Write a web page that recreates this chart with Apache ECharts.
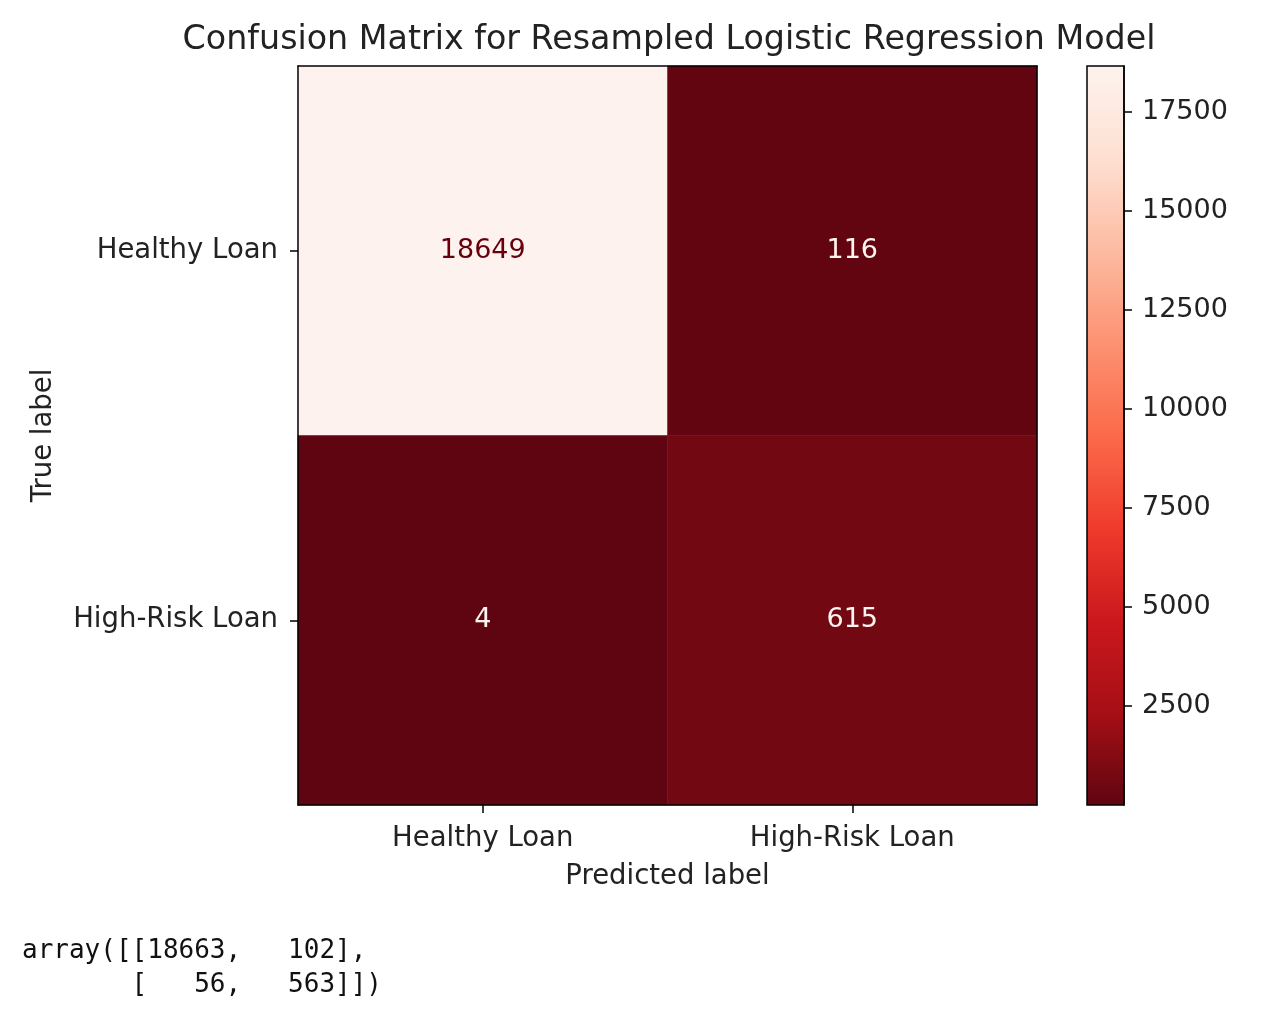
<!DOCTYPE html>
<html>
<head>
<meta charset="utf-8">
<script src="https://cdn.jsdelivr.net/npm/echarts@6/dist/echarts.min.js"></script>
<style>
html,body{margin:0;padding:0;background:#fff;}
#chart{width:1270px;height:1014px;}
</style>
</head>
<body>
<div id="chart"></div>
<script>
// ---- data ----
const predictedLabels = ['Healthy Loan', 'High-Risk Loan'];
const trueLabels = ['Healthy Loan', 'High-Risk Loan'];
const matrixRow0 = [18649, 116];
const matrixRow1 = [4, 615];
const colorbarTicks = [2500, 5000, 7500, 10000, 12500, 15000, 17500];
const printedRow0 = ['18663', '102'];
const printedRow1 = ['56', '563'];

const rows = [matrixRow0, matrixRow1];
const all = matrixRow0.concat(matrixRow1);
const vmin = Math.min.apply(null, all);
const vmax = Math.max.apply(null, all);
const thresh = (vmin + vmax) / 2;
const darkest = '#67000d', lightest = '#fff5f0';
const rampColors = ['#5f0511', '#a50f15', '#cb181d', '#ef3b2c', '#fb6a4a', '#fc9272', '#fcbba1', '#fee0d2', '#fdf2ee'];

const heatData = [];
rows.forEach(function (row, yi) {
  row.forEach(function (v, xi) {
    heatData.push({
      value: [xi, yi, v],
      label: { color: v < thresh ? lightest : darkest }
    });
  });
});

const font = 'DejaVu Sans';
const txtColor = '#222';
const fs = 27.5;

function pad(s, n) { while (s.length < n) s = ' ' + s; return s; }
const printedText = 'array([[' + pad(printedRow0[0], 5) + ', ' + pad(printedRow0[1], 5) + '],\n' +
                    '       [' + pad(printedRow1[0], 5) + ', ' + pad(printedRow1[1], 5) + ']])';

// colorbar gradient (bottom = low, top = high)
const barGradient = new echarts.graphic.LinearGradient(0, 1, 0, 0,
  rampColors.map(function (c, i) { return { offset: i / (rampColors.length - 1), color: c }; }));

const chart = echarts.init(document.getElementById('chart'), null, { renderer: 'canvas' });

const frameAxis = {
  axisLine: { show: true, onZero: false, lineStyle: { color: '#000', width: 1.5 } },
  axisTick: { show: false },
  axisLabel: { show: false },
  splitLine: { show: false },
  z: 10
};
const tickStyle = { color: '#000', width: 1.5 };

chart.setOption({
  backgroundColor: '#fff',
  animation: false,
  title: [{
    text: 'Confusion Matrix for Resampled Logistic Regression Model',
    left: 664,
    textAlign: 'center',
    top: 19,
    textStyle: { fontFamily: font, fontSize: 33.3, fontWeight: 'normal', color: txtColor }
  }, {
    text: printedText,
    left: 17,
    top: 929,
    textStyle: { fontFamily: 'DejaVu Sans Mono', fontSize: 26, fontWeight: 'normal', color: '#111', lineHeight: 34 }
  }],
  grid: [
    { left: 298, top: 66, width: 739, height: 739 },
    { left: 1087, top: 66, width: 37, height: 739, show: true,
      backgroundColor: barGradient, borderColor: '#000', borderWidth: 1.5 }
  ],
  xAxis: [
    Object.assign({}, frameAxis, {
      type: 'category', gridIndex: 0, data: predictedLabels, position: 'bottom',
      axisTick: { show: true, inside: false, alignWithLabel: true, length: 8, lineStyle: tickStyle },
      axisLabel: { show: true, fontFamily: font, fontSize: fs, color: txtColor, margin: 20 },
      name: 'Predicted label', nameLocation: 'middle', nameGap: 58,
      nameTextStyle: { fontFamily: font, fontSize: fs, color: txtColor }
    }),
    Object.assign({}, frameAxis, { type: 'category', gridIndex: 0, data: predictedLabels, position: 'top' }),
    { type: 'value', gridIndex: 1, min: 0, max: 1, show: false }
  ],
  yAxis: [
    Object.assign({}, frameAxis, {
      type: 'category', gridIndex: 0, data: trueLabels, inverse: true, position: 'left',
      axisTick: { show: true, inside: false, alignWithLabel: true, length: 8, lineStyle: tickStyle },
      axisLabel: { show: true, fontFamily: font, fontSize: fs, color: txtColor, margin: 20 },
      name: 'True label', nameLocation: 'middle', nameGap: 240, nameRotate: 90,
      nameTextStyle: { fontFamily: font, fontSize: fs, color: txtColor }
    }),
    Object.assign({}, frameAxis, { type: 'category', gridIndex: 0, data: trueLabels, inverse: true, position: 'right' }),
    Object.assign({}, frameAxis, {
      type: 'value', gridIndex: 1, min: vmin, max: vmax, position: 'right',
      axisLine: { show: true, onZero: false, lineStyle: { color: '#000', width: 1.5 } },
      axisTick: { show: true, inside: false, length: 8, customValues: colorbarTicks, lineStyle: tickStyle },
      axisLabel: { show: true, fontFamily: font, fontSize: 27, color: txtColor, margin: 18,
        customValues: colorbarTicks, formatter: function (v) { return String(v); } }
    })
  ],
  visualMap: {
    type: 'continuous',
    show: false,
    min: vmin,
    max: vmax,
    seriesIndex: 0,
    inRange: { color: rampColors }
  },
  series: [{
    type: 'heatmap',
    xAxisIndex: 0,
    yAxisIndex: 0,
    data: heatData,
    label: { show: true, fontFamily: font, fontSize: 27, formatter: function (p) { return p.value[2]; } },
    itemStyle: { borderWidth: 0 },
    emphasis: { disabled: true }
  }]
});
</script>
</body>
</html>
